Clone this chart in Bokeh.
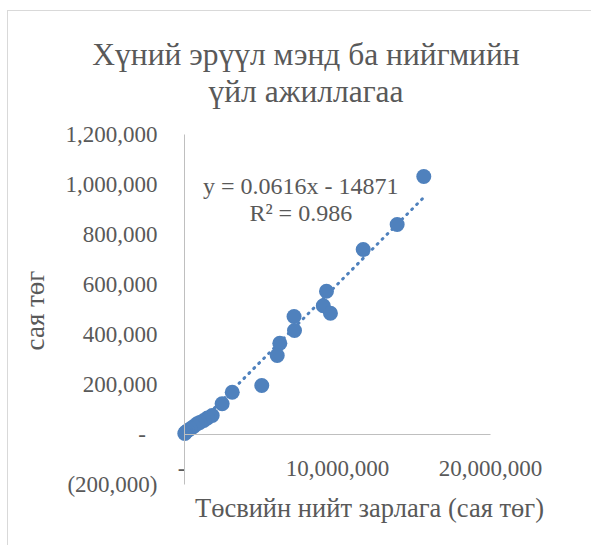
import math
from bokeh.plotting import figure
from bokeh.models import Range1d, FixedTicker, Title, Label
from bokeh.embed import file_html
from bokeh.resources import INLINE

# ---- data ----
title_lines = ["Хүний эрүүл мэнд ба нийгмийн", "үйл ажиллагаа"]
x_label = "Төсвийн нийт зарлага (сая төг)"
y_label = "сая төг"

budget_total = [15_640_000, 13_900_000, 11_680_000, 9_280_000, 9_070_000, 9_540_000,
                7_160_000, 7_190_000, 6_230_000, 6_060_000, 5_050_000, 3_120_000,
                2_460_000, 1_810_000, 1_500_000, 1_260_000, 1_000_000, 830_000,
                600_000, 390_000, 200_000, 70_000, 20_000]
health_social = [1_032_000, 840_000, 740_000, 573_000, 515_000, 485_000,
                 472_000, 416_000, 365_000, 316_000, 196_000, 169_000,
                 123_000, 76_000, 66_000, 56_000, 48_000, 43_000,
                 32_000, 23_000, 15_000, 9_000, 4_000]

trend_slope = 0.0616
trend_intercept = -14871
r_squared = 0.986
equation_text = "y = 0.0616x - 14871"
r2_text = "R² = 0.986"

x_ticks = [0, 10_000_000, 20_000_000]
x_tick_labels = ["-\u00a0", "10,000,000", "20,000,000"]
y_ticks = [-200_000, 0, 200_000, 400_000, 600_000, 800_000, 1_000_000, 1_200_000]
y_tick_labels = ["(200,000)", "-\u00a0\u00a0", "200,000", "400,000", "600,000", "800,000",
                 "1,000,000", "1,200,000"]

# ---- style ----
FONT = "Liberation Serif"
TXT = "#595959"
AXIS = "#bfbfbf"
BLUE = "#4F81BD"

p = figure(width=584, height=535, output_backend="svg", toolbar_location=None,
           x_range=Range1d(-10_784_000, 26_667_000),
           y_range=Range1d(-428_000, 1_304_000),
           min_border_left=11, min_border_right=0,
           min_border_bottom=5, min_border_top=97,
           background_fill_color="white", border_fill_color="white")
p.title = None
p.outline_line_color = None
p.xgrid.visible = False
p.ygrid.visible = False
p.styles = {"margin-left": "7px", "margin-top": "10px",
            "border-left": "1px solid #d9d9d9", "border-top": "1px solid #d9d9d9"}

t2 = Title(text=title_lines[1], align="center", standoff=0, text_font=FONT,
           text_font_size="31.5px", text_font_style="normal", text_color=TXT)
t1 = Title(text=title_lines[0], align="center", standoff=0, text_font=FONT,
           text_font_size="31.5px", text_font_style="normal", text_color=TXT)
p.add_layout(t2, "above")
p.add_layout(t1, "above")

# axes (crossing at zero, Excel style)
for ax in (p.xaxis[0], p.yaxis[0]):
    ax.fixed_location = 0
    ax.axis_line_color = AXIS
    ax.axis_line_width = 1
    ax.major_tick_in = 0
    ax.major_tick_out = 0
    ax.minor_tick_in = 0
    ax.minor_tick_out = 0
    ax.major_label_text_font = FONT
    ax.major_label_text_font_size = "23px"
    ax.major_label_text_color = TXT

xa = p.xaxis[0]
xa.bounds = (0, 20_000_000)
xa.ticker = FixedTicker(ticks=x_ticks)
xa.major_label_overrides = dict(zip(x_ticks, x_tick_labels))
xa.major_label_standoff = 21

ya = p.yaxis[0]
ya.bounds = (-200_000, 1_200_000)
ya.ticker = FixedTicker(ticks=y_ticks)
ya.major_label_overrides = dict(zip(y_ticks, y_tick_labels))
ya.major_label_standoff = 27

# axis titles
p.add_layout(Label(x=12_090_000, y=-292_000, text=x_label, text_align="center",
                   text_baseline="middle", text_font=FONT, text_font_size="26.5px",
                   text_color=TXT))
p.add_layout(Label(x=-9_740_000, y=496_000, text=y_label, text_align="center",
                   text_baseline="middle", angle=math.pi / 2, text_font=FONT,
                   text_font_size="27px", text_color=TXT))

# trendline from the displayed regression equation
x0, x1 = min(budget_total), max(budget_total)
p.line([x0, x1], [trend_slope * x0 + trend_intercept, trend_slope * x1 + trend_intercept],
       line_color=BLUE, line_width=3, line_dash="1 6", line_cap="round")

p.scatter(budget_total, health_social, size=15, fill_color=BLUE, line_color=None)

p.add_layout(Label(x=7_600_000, y=996_000, text=equation_text, text_align="center",
                   text_baseline="middle", text_font=FONT, text_font_size="24px",
                   text_color=TXT))
p.add_layout(Label(x=7_600_000, y=888_000, text=r2_text, text_align="center",
                   text_baseline="middle", text_font=FONT, text_font_size="24px",
                   text_color=TXT))

open("out.html", "w").write(file_html(p, INLINE))
